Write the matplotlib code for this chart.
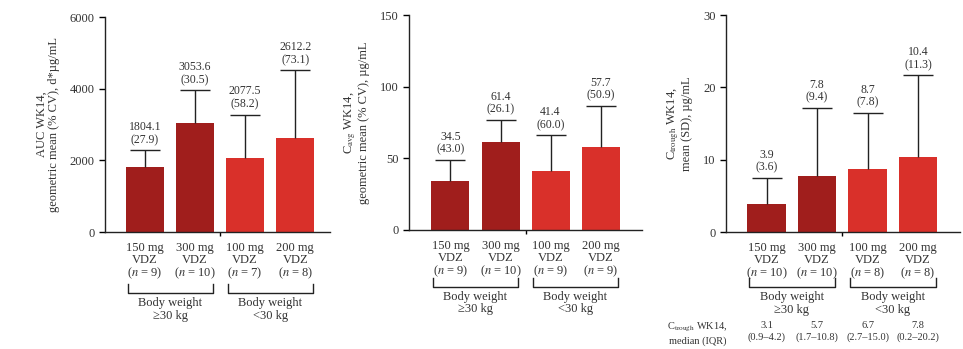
import matplotlib.pyplot as plt
import numpy as np

plt.rcParams['font.family'] = ['Liberation Serif', 'DejaVu Serif']
plt.rcParams['mathtext.fontset'] = 'stix'

dark_red = '#a01e1c'
light_red = '#d9302a'
bar_colors = [dark_red, dark_red, light_red, light_red]

doses = ['150 mg', '300 mg', '100 mg', '200 mg']
groups = ['Body weight\n≥30 kg', 'Body weight\n<30 kg']

# panel A: AUC WK14
auc_vals = [1804.1, 3053.6, 2077.5, 2612.2]
auc_cv = [27.9, 30.5, 58.2, 73.1]
auc_top = [2290, 3960, 3280, 4510]
auc_n = [9, 10, 7, 8]

# panel B: Cavg WK14
cavg_vals = [34.5, 61.4, 41.4, 57.7]
cavg_cv = [43.0, 26.1, 60.0, 50.9]
cavg_top = [49.1, 77.0, 66.0, 86.7]
cavg_n = [9, 10, 9, 9]

# panel C: Ctrough WK14
ctr_vals = [3.9, 7.8, 8.7, 10.4]
ctr_sd = [3.6, 9.4, 7.8, 11.3]
ctr_n = [10, 10, 8, 8]
ctr_median = ['3.1', '5.7', '6.7', '7.8']
ctr_iqr = ['(0.9–4.2)', '(1.7–10.8)', '(2.7–15.0)', '(0.2–20.2)']

panels = [
    dict(vals=auc_vals, top=auc_top, disp=auc_cv, n=auc_n, ymax=6000, yticks=[0, 2000, 4000, 6000],
         ylabel='AUC WK14,\ngeometric mean (% CV), d*µg/mL',
         rect=[0.109, 0.335, 0.234, 0.616], xlim=(-0.8, 3.7), drop=61),
    dict(vals=cavg_vals, top=cavg_top, disp=cavg_cv, n=cavg_n, ymax=150, yticks=[0, 50, 100, 150],
         ylabel='C$_{\\mathrm{avg}}$ WK14,\ngeometric mean (% CV), µg/mL',
         rect=[0.4247, 0.341, 0.242, 0.616], xlim=(-0.83, 3.83), drop=57),
    dict(vals=ctr_vals, top=[v + s for v, s in zip(ctr_vals, ctr_sd)], disp=ctr_sd, n=ctr_n, ymax=30,
         yticks=[0, 10, 20, 30], ylabel='C$_{\\mathrm{trough}}$ WK14,\nmean (SD), µg/mL',
         rect=[0.754, 0.335, 0.243, 0.622], xlim=(-0.8, 3.83), drop=55),
]

fig = plt.figure(figsize=(9.63, 3.49), dpi=100)
x = np.arange(4)
txt = '#333333'

for p in panels:
    ax = fig.add_axes(p['rect'])
    vals = np.array(p['vals'])
    err = np.array(p['top']) - vals
    ax.bar(x, vals, width=0.76, color=bar_colors, zorder=2)
    _, caps, _ = ax.errorbar(x, vals, yerr=[np.zeros(4), err], fmt='none', ecolor='#222222',
                             elinewidth=1, capsize=11, capthick=1, zorder=3)
    caps[0].set_visible(False)  # only the upper cap
    for xi, top, v, d in zip(x, p['top'], vals, p['disp']):
        ax.annotate('{:.1f}\n({:.1f})'.format(v, d), xy=(xi, top),
                    xytext=(0, 3), textcoords='offset points', ha='center', va='bottom',
                    fontsize=8.5, color=txt, linespacing=1.1)

    ax.set_xlim(*p['xlim'])
    ax.set_ylim(0, p['ymax'])
    ax.set_yticks(p['yticks'])
    ax.set_xticks(x)
    ax.set_xticklabels(['{}\nVDZ\n($\\it{{n}}$ = {})'.format(d, n) for d, n in zip(doses, p['n'])],
                       fontsize=9, linespacing=1.0, color=txt)
    ax.set_xticks([1.5], minor=True)
    ax.tick_params(axis='x', which='major', length=0, pad=7)
    ax.tick_params(axis='x', which='minor', length=3, width=1, direction='out')
    ax.tick_params(axis='y', length=4, width=1, labelsize=9, labelcolor=txt)
    for s in ['top', 'right']:
        ax.spines[s].set_visible(False)
    for s in ['left', 'bottom']:
        ax.spines[s].set_linewidth(1)
        ax.spines[s].set_color('#222222')
    ax.set_ylabel(p['ylabel'], fontsize=9, color=txt, linespacing=1.05, labelpad=7)

    # brackets for body-weight groups
    tr = ax.get_xaxis_transform()
    px = 1.0 / (p['rect'][3] * 349)
    for gi, (x0, x1) in enumerate([(-0.35, 1.35), (1.65, 3.35)]):
        yb = -p['drop'] * px
        yt = -(p['drop'] - 9) * px
        ax.plot([x0, x0, x1, x1], [yt, yb, yb, yt], transform=tr, color='#222222', lw=1, clip_on=False)
        ax.text((x0 + x1) / 2, yb - 4 * px, groups[gi], transform=tr, ha='center', va='top',
                fontsize=9, color=txt, linespacing=1.05)

# table under panel C
ax3 = fig.axes[2]
tr = ax3.get_xaxis_transform()
px = 1.0 / (0.622 * 349)
for xi, m, iqr in zip(x, ctr_median, ctr_iqr):
    ax3.text(xi, -89 * px, m + '\n' + iqr, transform=tr, ha='center', va='top',
             fontsize=7.5, color=txt, linespacing=1.3)
ax3.text(-1.36, -89 * px, 'C$_{\\mathrm{trough}}$ WK14,\nmedian (IQR)', transform=tr, ha='center',
         va='top', fontsize=7.5, color=txt, linespacing=1.3)

fig.savefig('out.png', dpi=100)
